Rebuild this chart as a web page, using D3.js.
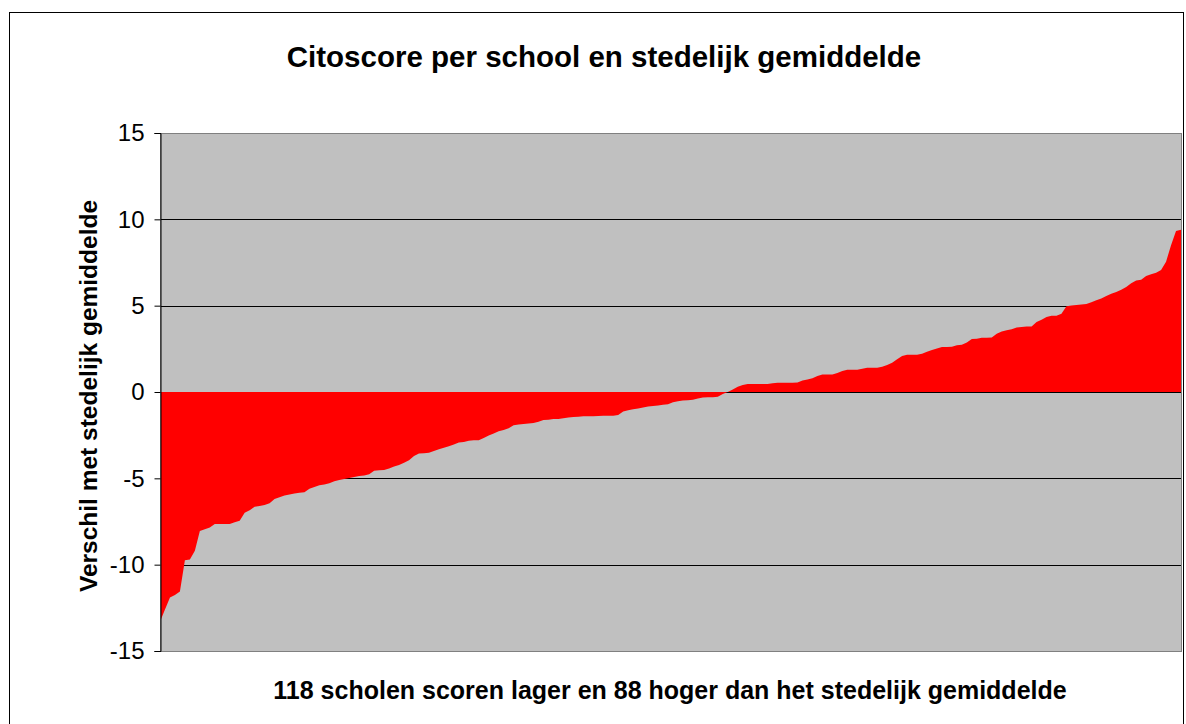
<!DOCTYPE html>
<html>
<head>
<meta charset="utf-8">
<script src="https://cdnjs.cloudflare.com/ajax/libs/d3/7.8.5/d3.min.js"></script>
<style>
  body { margin: 0; background: #fff; }
  text { font-family: "Liberation Sans", Arial, sans-serif; }
</style>
</head>
<body>
<script>
// verschil per school met het stedelijk gemiddelde, gesorteerd
var lowSchools = [
  -13.3, -12.6, -11.9, -11.75, -11.55, -9.75, -9.7, -9.2, -8.05, -7.95,
  -7.85, -7.65, -7.65, -7.65, -7.65, -7.55, -7.45, -7.0, -6.85, -6.65,
  -6.6, -6.55, -6.45, -6.2, -6.1, -6.0, -5.93, -5.88, -5.84, -5.81,
  -5.6, -5.5, -5.4, -5.35, -5.28, -5.17, -5.1, -5.04, -4.98, -4.92,
  -4.87, -4.84, -4.76, -4.56, -4.53, -4.52, -4.43, -4.32, -4.23, -4.1,
  -3.95, -3.7, -3.56, -3.55, -3.52, -3.41, -3.32, -3.23, -3.14, -3.04,
  -2.92, -2.9, -2.82, -2.8, -2.8, -2.67, -2.52, -2.4, -2.28, -2.2,
  -2.1, -1.93, -1.88, -1.85, -1.82, -1.8, -1.72, -1.62, -1.6, -1.57,
  -1.56, -1.52, -1.47, -1.45, -1.43, -1.41, -1.4, -1.4, -1.39, -1.38,
  -1.38, -1.37, -1.33, -1.13, -1.05, -1.0, -0.95, -0.9, -0.84, -0.81,
  -0.78, -0.74, -0.71, -0.6, -0.53, -0.49, -0.48, -0.45, -0.37, -0.32,
  -0.31, -0.3, -0.28, -0.12
]
var highSchools = [
  0.0, 0.15, 0.3, 0.4, 0.47, 0.47, 0.47, 0.47, 0.47, 0.5,
  0.53, 0.53, 0.53, 0.53, 0.55, 0.67, 0.73, 0.8, 0.93, 1.01,
  1.01, 1.01, 1.1, 1.22, 1.29, 1.29, 1.29, 1.35, 1.41, 1.41,
  1.41, 1.46, 1.57, 1.69, 1.9, 2.08, 2.16, 2.16, 2.16, 2.22,
  2.33, 2.43, 2.52, 2.61, 2.61, 2.62, 2.71, 2.73, 2.86, 3.07,
  3.08, 3.14, 3.14, 3.16, 3.37, 3.5, 3.57, 3.64, 3.73, 3.77,
  3.8, 3.8, 4.05, 4.19, 4.34, 4.42, 4.42, 4.53, 4.97, 5.01,
  5.04, 5.07, 5.1, 5.2, 5.31, 5.41, 5.56, 5.69, 5.79, 5.92,
  6.08, 6.3, 6.46, 6.5, 6.72, 6.82, 6.9, 7.07, 7.55, 8.5,
  9.32, 9.4
]
var yTicks = [-15, -10, -5, 0, 5, 10, 15]

var titleText = "Citoscore per school en stedelijk gemiddelde"
var xTitle = "118 scholen scoren lager en 88 hoger dan het stedelijk gemiddelde"
var yTitle = "Verschil met stedelijk gemiddelde"

var scores = lowSchools.concat(highSchools)

var w = 1186
var h = 724
var plot = { left: 160, right: 1181, top: 133, bottom: 651 }

var svg = d3.select("body")
  .append("svg")
  .attr("width", w)
  .attr("height", h);

// buitenrand
svg.append("rect")
  .attr("x", 9.5)
  .attr("y", 12.5)
  .attr("width", 1174)
  .attr("height", 712)
  .attr("fill", "#fff")
  .attr("stroke", "#000")
  .attr("stroke-width", 1);

var xScale = d3.scaleLinear()
  .domain([0, scores.length - 1])
  .range([plot.left, plot.right]);

var yScale = d3.scaleLinear()
  .domain([-15, 15])
  .range([plot.bottom, plot.top]);

// plot area
svg.append("rect")
  .attr("x", plot.left)
  .attr("y", plot.top)
  .attr("width", plot.right - plot.left)
  .attr("height", plot.bottom - plot.top)
  .attr("fill", "#c0c0c0");

// gridlines
svg.append("g")
  .selectAll("line")
  .data(yTicks.filter(function(d) { return d > -15 && d < 15; }))
  .enter()
  .append("line")
  .attr("x1", plot.left)
  .attr("x2", plot.right)
  .attr("y1", function(d) { return Math.round(yScale(d)) + 0.5; })
  .attr("y2", function(d) { return Math.round(yScale(d)) + 0.5; })
  .attr("stroke", "#000")
  .attr("stroke-width", 1);

var area = d3.area()
  .x(function(d, i) { return xScale(i); })
  .y0(yScale(0))
  .y1(function(d) { return yScale(d); });

svg.append("path")
  .datum(scores)
  .attr("d", area)
  .attr("fill", "#ff0000");

// rand van de plot area
svg.append("rect")
  .attr("x", plot.left + 0.5)
  .attr("y", plot.top + 0.5)
  .attr("width", plot.right - plot.left)
  .attr("height", plot.bottom - plot.top)
  .attr("fill", "none")
  .attr("stroke", "#808080")
  .attr("stroke-width", 1);

//y axis
var yAxis = d3.axisLeft(yScale)
  .tickValues(yTicks)
  .tickFormat(function(d) { return String(d); })
  .tickSize(6)
  .tickPadding(10);

var yAxisG = svg.append("g")
  .attr("transform", "translate(" + (plot.left + 0.5) + ",0)")
  .call(yAxis);

yAxisG.select(".domain").attr("stroke", "#000");
yAxisG.selectAll(".tick line").attr("stroke", "#000");
yAxisG.selectAll(".tick text")
  .attr("fill", "#000")
  .style("font-family", "'Liberation Sans', Arial, sans-serif")
  .style("font-size", "24px");

svg.append("text")
  .attr("x", 604)
  .attr("y", 67)
  .attr("text-anchor", "middle")
  .style("font-size", "29.5px")
  .style("font-weight", "bold")
  .text(titleText);

svg.append("text")
  .attr("x", 670)
  .attr("y", 699)
  .attr("text-anchor", "middle")
  .style("font-size", "25px")
  .style("font-weight", "bold")
  .text(xTitle);

svg.append("text")
  .attr("transform", "translate(97,396) rotate(-90)")
  .attr("text-anchor", "middle")
  .style("font-size", "24.5px")
  .style("font-weight", "bold")
  .text(yTitle);
</script>
</body>
</html>
